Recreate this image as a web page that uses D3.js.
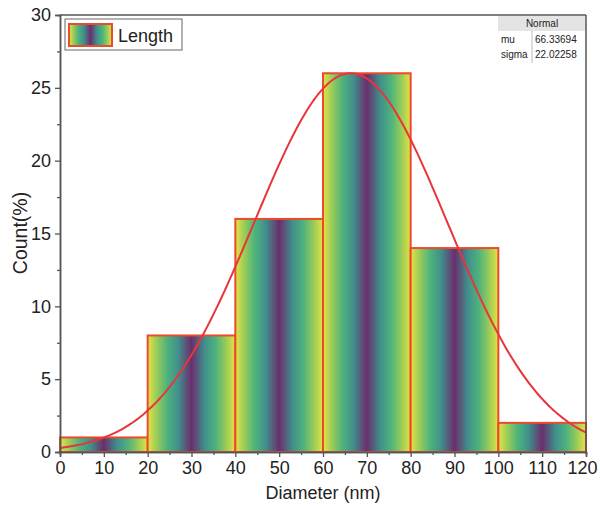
<!DOCTYPE html>
<html>
<head>
<meta charset="utf-8">
<script src="https://cdn.jsdelivr.net/npm/d3@7"></script>
<style>
  body { margin: 0; background: #fff; }
  text { font-family: "Liberation Sans", Arial, sans-serif; fill: #222; }
</style>
</head>
<body>
<div id="viz"></div>
<script>
var binStart = [0, 20, 40, 60, 80, 100];
var binEnd   = [20, 40, 60, 80, 100, 120];
var counts   = [1, 8, 16, 26, 14, 2];
var xTicks = [0, 10, 20, 30, 40, 50, 60, 70, 80, 90, 100, 110, 120];
var yTicks = [0, 5, 10, 15, 20, 25, 30];
var fitMu = 66.33694, fitSigma = 22.02258, fitPeak = 26;   // normal fit, peak

var width = 600, height = 506;
var margin = {top: 15, right: 14, bottom: 54, left: 60};

var svg = d3.select("#viz").append("svg")
    .attr("width", width)
    .attr("height", height);

var x = d3.scaleLinear().domain([0, 120]).range([margin.left, width - margin.right]);
var y = d3.scaleLinear().domain([0, 30]).range([height - margin.bottom, margin.top]);

// gradient: yellow edges -> green -> teal -> purple centre
var defs = svg.append("defs");
var grad = defs.append("linearGradient").attr("id", "bargrad")
    .attr("x1", "0%").attr("x2", "100%").attr("y1", "0%").attr("y2", "0%");
var stops = [
  [0, "#e6e244"], [0.1, "#9ccd57"], [0.22, "#4fb37c"], [0.35, "#3f8f8c"],
  [0.5, "#6b2e6d"],
  [0.65, "#3f8f8c"], [0.78, "#4fb37c"], [0.9, "#9ccd57"], [1, "#e6e244"]
];
grad.selectAll("stop").data(stops).enter().append("stop")
    .attr("offset", function(d) { return d[0]; })
    .attr("stop-color", function(d) { return d[1]; });

// ****************** bars ***************************
svg.append("g").selectAll("rect")
    .data(counts)
    .enter().append("rect")
      .attr("x", function(d, i) { return x(binStart[i]); })
      .attr("y", function(d) { return y(d); })
      .attr("width", function(d, i) { return x(binEnd[i]) - x(binStart[i]); })
      .attr("height", function(d) { return y(0) - y(d); })
      .attr("fill", "url(#bargrad)")
      .attr("stroke", "#ec4a2c")
      .attr("stroke-width", 2);

// ****************** normal fit ***************************
var fitX = d3.range(0, 120.5, 0.5);
var line = d3.line()
    .x(function(d) { return x(d); })
    .y(function(d) { return y(fitPeak * Math.exp(-Math.pow(d - fitMu, 2) / (2 * fitSigma * fitSigma))); });
svg.append("path")
    .datum(fitX)
    .attr("d", line)
    .attr("fill", "none")
    .attr("stroke", "#e8353c")
    .attr("stroke-width", 2);

// ****************** axes ***************************
var xAxis = svg.append("g")
    .attr("transform", "translate(0," + y(0) + ")")
    .call(d3.axisBottom(x).tickValues(xTicks).tickSize(5).tickPadding(4));
svg.append("g")
    .attr("transform", "translate(0," + y(0) + ")")
    .call(d3.axisBottom(x).tickValues(d3.range(5, 120, 10)).tickSize(3).tickFormat(""));
svg.append("g")
    .attr("transform", "translate(" + x(0) + ",0)")
    .call(d3.axisLeft(y).tickValues(yTicks).tickSize(5).tickPadding(4));
svg.append("g")
    .attr("transform", "translate(" + x(0) + ",0)")
    .call(d3.axisLeft(y).tickValues(d3.range(2.5, 30, 5)).tickSize(3).tickFormat(""));

svg.selectAll(".domain").attr("stroke", "#555").attr("stroke-width", 1.5);
svg.selectAll(".tick line").attr("stroke", "#555").attr("stroke-width", 1.3);
svg.selectAll(".tick text").style("font-size", "18px").attr("fill", "#222");
// keep the last label inside the window
xAxis.selectAll(".tick text").filter(function(d) { return d === 120; }).attr("dx", "-4");

// top and right frame
svg.append("line").attr("x1", x(0)).attr("x2", x(120)).attr("y1", y(30)).attr("y2", y(30))
    .attr("stroke", "#555").attr("stroke-width", 1.5);
svg.append("line").attr("x1", x(120)).attr("x2", x(120)).attr("y1", y(30)).attr("y2", y(0))
    .attr("stroke", "#555").attr("stroke-width", 1.5);

// axis titles
svg.append("text")
    .attr("x", (x(0) + x(120)) / 2).attr("y", 499)
    .attr("text-anchor", "middle")
    .style("font-size", "18px")
    .text("Diameter (nm)");
svg.append("text")
    .attr("transform", "translate(27,233) rotate(-90)")
    .attr("text-anchor", "middle")
    .style("font-size", "19.5px")
    .text("Count(%)");

// ****************** legend ***************************
var legend = svg.append("g");
legend.append("rect").attr("x", 65).attr("y", 19).attr("width", 117).attr("height", 31)
    .attr("fill", "#fff").attr("stroke", "#666").attr("stroke-width", 1);
legend.append("rect").attr("x", 69).attr("y", 24).attr("width", 43).attr("height", 22)
    .attr("fill", "url(#bargrad)").attr("stroke", "#ec4a2c").attr("stroke-width", 2);
legend.append("text").attr("x", 118).attr("y", 42)
    .style("font-size", "18px").text("Length");

// ****************** fit table ***************************
var tLeft = 498, tRight = x(120), tTop = y(30);
var table = svg.append("g");
table.append("rect").attr("x", tLeft).attr("y", tTop + 1).attr("width", tRight - tLeft - 1).attr("height", 15)
    .attr("fill", "#e4e4e4");
table.append("line").attr("x1", 532).attr("x2", 532).attr("y1", tTop + 16).attr("y2", tTop + 48)
    .attr("stroke", "#bbb");
table.append("text").attr("x", (tLeft + tRight) / 2).attr("y", tTop + 12)
    .attr("text-anchor", "middle").style("font-size", "10px").text("Normal");
var rowNames = ["mu", "sigma"];
var rowVals = [fitMu.toFixed(5), fitSigma.toFixed(5)];
table.selectAll(".rn").data(rowNames).enter().append("text")
    .attr("x", tLeft + 3).attr("y", function(d, i) { return tTop + 28 + i * 15; })
    .style("font-size", "10px").text(function(d) { return d; });
table.selectAll(".rv").data(rowVals).enter().append("text")
    .attr("x", 535).attr("y", function(d, i) { return tTop + 28 + i * 15; })
    .style("font-size", "10px").text(function(d) { return d; });
</script>
</body>
</html>
